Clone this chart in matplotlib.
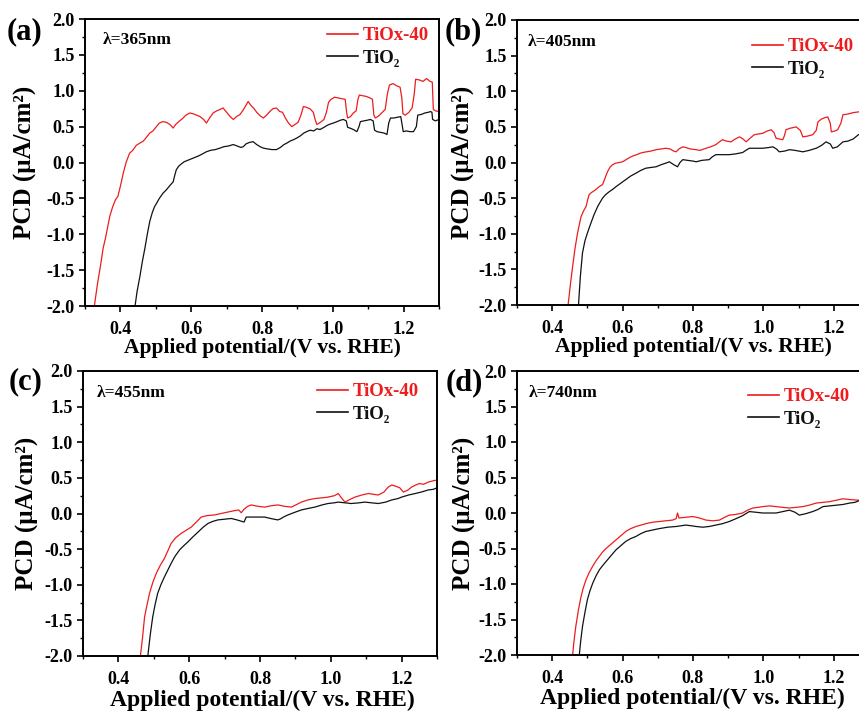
import matplotlib
matplotlib.use("Agg")
import matplotlib.pyplot as plt
from matplotlib.lines import Line2D
from matplotlib.ticker import MultipleLocator, FormatStrFormatter

plt.rcParams['font.family'] = ['Liberation Serif', 'DejaVu Serif']
plt.rcParams['font.weight'] = 'bold'
plt.rcParams['axes.unicode_minus'] = False

W, H = 859, 713
RED = '#ee1c1c'
BLACK = '#111111'

# ---- data: potential (V vs RHE) / PCD (uA/cm2) ----
a_red_v = [0.325, 0.335, 0.345, 0.351, 0.358, 0.364, 0.370, 0.378, 0.386, 0.393, 0.400, 0.408, 0.416, 0.426,
           0.435, 0.445, 0.455, 0.465, 0.475, 0.483, 0.492, 0.500, 0.510, 0.520, 0.530, 0.540, 0.549, 0.556,
           0.565, 0.575, 0.585, 0.596, 0.605, 0.615, 0.625, 0.635, 0.643, 0.652, 0.662, 0.672, 0.682, 0.690,
           0.700, 0.710, 0.719, 0.728, 0.738, 0.748, 0.755, 0.761, 0.768, 0.776, 0.785, 0.795, 0.804, 0.813,
           0.822, 0.831, 0.841, 0.850, 0.858, 0.866, 0.875, 0.884, 0.893, 0.902, 0.910, 0.917, 0.925, 0.935,
           0.945, 0.950, 0.955, 0.965, 0.975, 0.982, 0.988, 0.995, 1.005, 1.015, 1.025, 1.035, 1.039, 1.042,
           1.050, 1.058, 1.066, 1.071, 1.075, 1.085, 1.095, 1.105, 1.112, 1.116, 1.120, 1.130, 1.140, 1.148,
           1.154, 1.160, 1.170, 1.180, 1.190, 1.195, 1.198, 1.205, 1.215, 1.224, 1.230, 1.234, 1.245, 1.255,
           1.265, 1.275, 1.281, 1.284, 1.290, 1.300]
a_red_i = [-2.05, -1.70, -1.40, -1.20, -1.05, -0.90, -0.75, -0.62, -0.52, -0.47, -0.33, -0.15, 0.00, 0.13,
           0.17, 0.24, 0.27, 0.30, 0.36, 0.41, 0.44, 0.49, 0.55, 0.57, 0.56, 0.53, 0.48, 0.53,
           0.57, 0.61, 0.66, 0.69, 0.68, 0.66, 0.64, 0.60, 0.55, 0.62, 0.69, 0.72, 0.74, 0.76,
           0.70, 0.64, 0.60, 0.64, 0.67, 0.74, 0.80, 0.85, 0.80, 0.76, 0.70, 0.65, 0.62, 0.66,
           0.71, 0.75, 0.76, 0.71, 0.70, 0.62, 0.55, 0.50, 0.53, 0.56, 0.66, 0.78, 0.77, 0.75,
           0.70, 0.60, 0.53, 0.56, 0.60, 0.70, 0.84, 0.88, 0.91, 0.90, 0.89, 0.88, 0.70, 0.62,
           0.64, 0.69, 0.72, 0.88, 0.94, 0.93, 0.92, 0.90, 0.88, 0.66, 0.62, 0.65, 0.70, 0.74,
           0.95, 1.08, 1.10, 1.07, 1.05, 0.90, 0.68, 0.66, 0.70, 0.76, 0.95, 1.16, 1.15, 1.13,
           1.17, 1.13, 1.12, 0.74, 0.72, 0.71]

a_blk_v = [0.440, 0.447, 0.455, 0.462, 0.469, 0.476, 0.483, 0.490, 0.496, 0.502, 0.510, 0.520, 0.530, 0.540,
           0.549, 0.554, 0.558, 0.565, 0.572, 0.580, 0.590, 0.600, 0.610, 0.620, 0.632, 0.643, 0.655, 0.668,
           0.681, 0.692, 0.705, 0.719, 0.730, 0.740, 0.747, 0.755, 0.765, 0.775, 0.785, 0.795, 0.804, 0.815,
           0.828, 0.841, 0.852, 0.862, 0.870, 0.880, 0.890, 0.898, 0.908, 0.918, 0.926, 0.936, 0.946, 0.955,
           0.964, 0.975, 0.985, 0.995, 1.002, 1.012, 1.022, 1.030, 1.038, 1.042, 1.048, 1.058, 1.068, 1.074,
           1.078, 1.088, 1.098, 1.106, 1.114, 1.118, 1.125, 1.135, 1.145, 1.153, 1.158, 1.163, 1.172, 1.182,
           1.192, 1.196, 1.199, 1.208, 1.218, 1.228, 1.236, 1.240, 1.250, 1.260, 1.270, 1.276, 1.280, 1.282,
           1.290, 1.300]
a_blk_i = [-2.05, -1.80, -1.59, -1.38, -1.20, -1.00, -0.82, -0.70, -0.62, -0.57, -0.50, -0.43, -0.38, -0.32,
           -0.27, -0.17, -0.10, -0.05, -0.02, 0.01, 0.03, 0.05, 0.07, 0.09, 0.12, 0.15, 0.17, 0.18,
           0.20, 0.22, 0.23, 0.25, 0.23, 0.21, 0.22, 0.26, 0.28, 0.29, 0.25, 0.22, 0.20, 0.19,
           0.18, 0.18, 0.21, 0.25, 0.27, 0.30, 0.32, 0.34, 0.37, 0.41, 0.43, 0.45, 0.44, 0.47,
           0.46, 0.49, 0.52, 0.54, 0.55, 0.57, 0.59, 0.60, 0.58, 0.49, 0.48, 0.46, 0.43, 0.50,
           0.57, 0.58, 0.59, 0.60, 0.58, 0.45, 0.43, 0.42, 0.41, 0.39, 0.55, 0.62, 0.62, 0.63,
           0.64, 0.52, 0.43, 0.44, 0.43, 0.43, 0.50, 0.66, 0.67, 0.69, 0.70, 0.71, 0.70, 0.60,
           0.58, 0.60]

b_red_v = [0.444, 0.452, 0.458, 0.465, 0.472, 0.478, 0.482, 0.490, 0.496, 0.501, 0.505, 0.512, 0.518, 0.524,
           0.533, 0.543, 0.550, 0.557, 0.565, 0.572, 0.580, 0.590, 0.600, 0.610, 0.620, 0.628, 0.640, 0.650,
           0.657, 0.668, 0.680, 0.695, 0.710, 0.723, 0.735, 0.745, 0.752, 0.760, 0.771, 0.780, 0.792, 0.809,
           0.820, 0.837, 0.850, 0.865, 0.875, 0.884, 0.895, 0.908, 0.920, 0.932, 0.942, 0.951, 0.962, 0.974,
           0.986, 0.998, 1.010, 1.022, 1.030, 1.036, 1.045, 1.055, 1.060, 1.064, 1.075, 1.085, 1.093, 1.105,
           1.112, 1.125, 1.140, 1.150, 1.155, 1.165, 1.175, 1.183, 1.190, 1.193, 1.202, 1.211, 1.220, 1.226,
           1.240, 1.255, 1.270, 1.285, 1.300]
b_red_i = [-2.05, -1.70, -1.46, -1.20, -0.99, -0.85, -0.76, -0.67, -0.62, -0.52, -0.45, -0.42, -0.40, -0.38,
           -0.34, -0.31, -0.22, -0.13, -0.06, -0.03, -0.01, 0.00, 0.01, 0.04, 0.07, 0.09, 0.11, 0.13,
           0.14, 0.15, 0.16, 0.18, 0.19, 0.20, 0.19, 0.16, 0.15, 0.19, 0.22, 0.21, 0.19, 0.18,
           0.17, 0.20, 0.22, 0.25, 0.29, 0.32, 0.30, 0.29, 0.33, 0.36, 0.33, 0.29, 0.34, 0.39,
           0.40, 0.41, 0.44, 0.46, 0.42, 0.34, 0.33, 0.32, 0.38, 0.46, 0.48, 0.49, 0.50, 0.45,
           0.36, 0.37, 0.39, 0.45, 0.57, 0.61, 0.63, 0.64, 0.55, 0.43, 0.44, 0.46, 0.55, 0.67,
           0.68, 0.70, 0.71, 0.73, 0.74]

b_blk_v = [0.474, 0.480, 0.486, 0.493, 0.500, 0.510, 0.519, 0.530, 0.543, 0.552, 0.562, 0.571, 0.581, 0.595,
           0.609, 0.623, 0.638, 0.652, 0.666, 0.680, 0.695, 0.710, 0.722, 0.733, 0.745, 0.756, 0.763, 0.771,
           0.785, 0.800, 0.809, 0.825, 0.846, 0.855, 0.865, 0.880, 0.903, 0.920, 0.941, 0.950, 0.960, 0.980,
           0.998, 1.015, 1.027, 1.037, 1.045, 1.060, 1.074, 1.090, 1.112, 1.130, 1.150, 1.165, 1.178, 1.190,
           1.197, 1.210, 1.226, 1.240, 1.255, 1.270, 1.285, 1.300]
b_blk_i = [-2.05, -1.60, -1.27, -1.10, -0.99, -0.85, -0.73, -0.61, -0.50, -0.45, -0.41, -0.38, -0.34, -0.29,
           -0.24, -0.19, -0.15, -0.11, -0.08, -0.07, -0.06, -0.03, -0.01, 0.01, -0.03, -0.06, 0.00, 0.04,
           0.03, 0.02, 0.01, 0.03, 0.04, 0.08, 0.11, 0.11, 0.11, 0.12, 0.14, 0.17, 0.20, 0.20,
           0.20, 0.21, 0.22, 0.19, 0.15, 0.16, 0.18, 0.17, 0.15, 0.17, 0.20, 0.24, 0.29, 0.26,
           0.20, 0.22, 0.29, 0.30, 0.33, 0.39, 0.42, 0.44]

c_red_v = [0.461, 0.468, 0.474, 0.481, 0.488, 0.497, 0.507, 0.518, 0.530, 0.540, 0.549, 0.562, 0.577, 0.590,
           0.606, 0.620, 0.634, 0.650, 0.672, 0.690, 0.709, 0.728, 0.740, 0.747, 0.755, 0.765, 0.775, 0.795,
           0.813, 0.833, 0.851, 0.870, 0.889, 0.905, 0.917, 0.935, 0.955, 0.975, 0.992, 1.010, 1.021, 1.030,
           1.040, 1.055, 1.068, 1.088, 1.106, 1.120, 1.134, 1.150, 1.162, 1.172, 1.185, 1.195, 1.205, 1.218,
           1.228, 1.240, 1.250, 1.262, 1.275, 1.290, 1.300]
c_red_i = [-2.05, -1.75, -1.45, -1.28, -1.12, -0.97, -0.84, -0.73, -0.63, -0.52, -0.42, -0.34, -0.28, -0.24,
           -0.19, -0.12, -0.05, -0.03, -0.02, 0.00, 0.02, 0.04, 0.05, 0.01, 0.06, 0.10, 0.12, 0.10,
           0.09, 0.11, 0.12, 0.10, 0.09, 0.13, 0.16, 0.19, 0.21, 0.22, 0.23, 0.25, 0.28, 0.22,
           0.16, 0.20, 0.23, 0.26, 0.28, 0.27, 0.26, 0.30, 0.37, 0.40, 0.38, 0.36, 0.30, 0.33,
           0.37, 0.40, 0.42, 0.41, 0.44, 0.46, 0.47]

c_blk_v = [0.482, 0.490, 0.497, 0.504, 0.511, 0.520, 0.530, 0.540, 0.549, 0.560, 0.573, 0.585, 0.596, 0.610,
           0.625, 0.640, 0.653, 0.667, 0.681, 0.700, 0.719, 0.735, 0.755, 0.761, 0.780, 0.800, 0.813, 0.830,
           0.850, 0.856, 0.870, 0.879, 0.900, 0.917, 0.935, 0.955, 0.975, 0.992, 1.010, 1.021, 1.040, 1.058,
           1.080, 1.096, 1.115, 1.134, 1.155, 1.172, 1.190, 1.200, 1.220, 1.238, 1.255, 1.275, 1.290, 1.300]
c_blk_i = [-2.05, -1.70, -1.45, -1.27, -1.12, -1.00, -0.89, -0.79, -0.70, -0.60, -0.51, -0.45, -0.40, -0.33,
           -0.26, -0.19, -0.14, -0.11, -0.09, -0.08, -0.07, -0.09, -0.12, -0.05, -0.05, -0.05, -0.05, -0.07,
           -0.09, -0.08, -0.04, -0.02, 0.02, 0.05, 0.07, 0.09, 0.12, 0.14, 0.15, 0.16, 0.15, 0.14,
           0.15, 0.16, 0.15, 0.14, 0.16, 0.19, 0.21, 0.23, 0.26, 0.28, 0.30, 0.33, 0.34, 0.36]

d_red_v = [0.457, 0.462, 0.467, 0.474, 0.481, 0.488, 0.496, 0.505, 0.515, 0.525, 0.534, 0.543, 0.553, 0.567,
           0.581, 0.595, 0.609, 0.623, 0.638, 0.652, 0.666, 0.685, 0.704, 0.722, 0.742, 0.752, 0.756, 0.760,
           0.780, 0.799, 0.818, 0.837, 0.856, 0.875, 0.890, 0.903, 0.922, 0.941, 0.955, 0.970, 0.985, 0.998,
           1.018, 1.036, 1.055, 1.074, 1.093, 1.112, 1.130, 1.150, 1.170, 1.188, 1.207, 1.226, 1.245, 1.270,
           1.285, 1.300]
d_red_i = [-2.05, -1.80, -1.60, -1.38, -1.20, -1.06, -0.94, -0.84, -0.75, -0.67, -0.61, -0.55, -0.50, -0.44,
           -0.38, -0.32, -0.26, -0.22, -0.19, -0.17, -0.15, -0.13, -0.12, -0.11, -0.10, -0.08, 0.00, -0.07,
           -0.06, -0.05, -0.07, -0.10, -0.11, -0.10, -0.06, -0.03, -0.02, 0.00, 0.04, 0.07, 0.08, 0.09,
           0.10, 0.09, 0.08, 0.07, 0.08, 0.09, 0.11, 0.14, 0.15, 0.16, 0.18, 0.20, 0.19, 0.18,
           0.20, 0.22]

d_blk_v = [0.476, 0.481, 0.486, 0.493, 0.500, 0.507, 0.515, 0.524, 0.534, 0.545, 0.557, 0.569, 0.581, 0.595,
           0.609, 0.623, 0.638, 0.652, 0.666, 0.685, 0.704, 0.728, 0.752, 0.766, 0.780, 0.795, 0.809, 0.828,
           0.846, 0.865, 0.884, 0.903, 0.922, 0.940, 0.960, 0.980, 0.998, 1.017, 1.036, 1.055, 1.074, 1.090,
           1.102, 1.120, 1.140, 1.155, 1.169, 1.188, 1.207, 1.226, 1.245, 1.260, 1.275, 1.290, 1.300]
d_blk_i = [-2.05, -1.80, -1.60, -1.40, -1.22, -1.10, -0.99, -0.89, -0.80, -0.73, -0.66, -0.59, -0.52, -0.46,
           -0.40, -0.36, -0.33, -0.29, -0.26, -0.24, -0.22, -0.20, -0.19, -0.18, -0.17, -0.18, -0.19, -0.20,
           -0.19, -0.17, -0.15, -0.12, -0.08, -0.04, 0.02, 0.01, 0.00, 0.00, 0.00, 0.02, 0.04, 0.01,
           -0.03, -0.01, 0.02, 0.05, 0.09, 0.10, 0.11, 0.12, 0.14, 0.15, 0.18, 0.19, 0.20]

wavelengths = ['λ=365nm', 'λ=405nm', 'λ=455nm', 'λ=740nm']
panel_tags = ['(a)', '(b)', '(c)', '(d)']
series_names = ['TiOx-40', 'TiO₂']

# layout in pixels of the reference image
panels = [
    dict(box=(85, 19, 439, 306), red=(a_red_v, a_red_i), blk=(a_blk_v, a_blk_i),
         tag=(7, 32), lam=(103, 40), leg=(327, 37), ylab=25, xlab=(262, 348, 15.5)),
    dict(box=(517, 20, 869, 305), red=(b_red_v, b_red_i), blk=(b_blk_v, b_blk_i),
         tag=(445, 32), lam=(528, 42), leg=(752, 48), ylab=463, xlab=(693, 347, 15.5)),
    dict(box=(83, 371, 437, 656), red=(c_red_v, c_red_i), blk=(c_blk_v, c_blk_i),
         tag=(9, 382), lam=(97, 393), leg=(317, 393), ylab=27, xlab=(262, 700, 17)),
    dict(box=(517, 371, 869, 655), red=(d_red_v, d_red_i), blk=(d_blk_v, d_blk_i),
         tag=(446, 383), lam=(529, 393), leg=(748, 398), ylab=464, xlab=(692, 698, 17)),
]

fig = plt.figure(figsize=(W / 100, H / 100), dpi=100)


def fx(px):
    return px / W


def fy(py):
    return 1 - py / H


for k, p in enumerate(panels):
    l, t, r, b = p['box']
    ax = fig.add_axes([fx(l), fy(b), (r - l) / W, (b - t) / H])
    ax.plot(*p['red'], color=RED, lw=0.9)
    ax.plot(*p['blk'], color=BLACK, lw=0.9)
    ax.set_xlim(0.3, 1.3)
    ax.set_ylim(-2.0, 2.0)
    ax.xaxis.set_major_locator(MultipleLocator(0.2))
    ax.xaxis.set_minor_locator(MultipleLocator(0.1))
    ax.yaxis.set_major_locator(MultipleLocator(0.5))
    ax.yaxis.set_minor_locator(MultipleLocator(0.25))
    ax.xaxis.set_major_formatter(FormatStrFormatter('%.1f'))
    ax.yaxis.set_major_formatter(FormatStrFormatter('%.1f'))
    ax.tick_params(which='major', direction='out', length=4.5, width=1.2, labelsize=13, pad=3)
    ax.tick_params(which='minor', direction='out', length=2.5, width=1.0)
    ax.tick_params(axis='x', pad=6)
    for s in ax.spines.values():
        s.set_linewidth(1.4)
    for lab in ax.get_xticklabels() + ax.get_yticklabels():
        lab.set_fontweight('bold')

    ax.text((p['lam'][0] - l) / (r - l), (b - p['lam'][1]) / (b - t), wavelengths[k],
            transform=ax.transAxes, ha='left', va='center', fontsize=12.5, fontweight='bold')

    handles = [Line2D([], [], color=RED, lw=1.2), Line2D([], [], color=BLACK, lw=1.2)]
    ax.legend(handles, series_names, loc='upper left',
              bbox_to_anchor=(fx(p['leg'][0]), fy(p['leg'][1] - 10)), bbox_transform=fig.transFigure,
              frameon=False, borderpad=0, borderaxespad=0, handlelength=1.65, handletextpad=0.25,
              labelspacing=0.3, labelcolor=[RED, BLACK], prop=dict(weight='bold', size=13.5))

    fig.text(fx(p['tag'][0]), fy(p['tag'][1]), panel_tags[k], ha='left', va='center',
             fontsize=22, fontweight='bold')
    fig.text(fx(p['ylab']), fy((t + b) / 2), 'PCD (μA/cm²)', rotation=90, ha='center', va='center',
             fontsize=18, fontweight='bold')
    xc, yc, fs = p['xlab']
    fig.text(fx(xc), fy(yc), 'Applied potential/(V vs. RHE)', ha='center', va='center',
             fontsize=fs, fontweight='bold')

fig.savefig('out.png', dpi=100)
